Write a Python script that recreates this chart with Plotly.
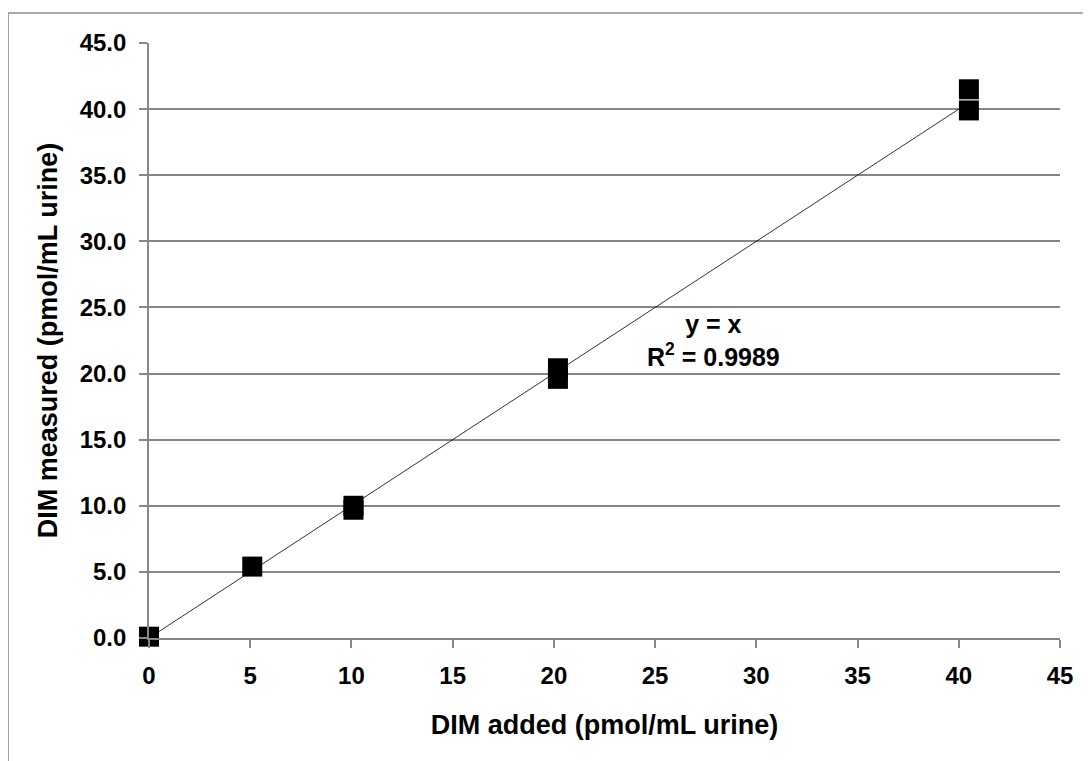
import plotly.graph_objects as go

# Data
dim_added = [0, 5.1, 10.1, 10.1, 20.2, 20.2, 40.5, 40.5]
dim_measured = [0.1, 5.4, 10.0, 9.7, 20.4, 19.6, 41.5, 39.9]
trend_slope = 1.0
trend_intercept = 0.0
r_squared = "0.9989"
x_ticks = [0, 5, 10, 15, 20, 25, 30, 35, 40, 45]
y_ticks = [0, 5, 10, 15, 20, 25, 30, 35, 40, 45]

trend_x = [min(dim_added), max(dim_added)]
trend_y = [trend_slope * v + trend_intercept for v in trend_x]

FONT = "Liberation Sans, Arial, sans-serif"
GRID = "#878787"

fig = go.Figure()
fig.add_trace(go.Scatter(
    x=trend_x, y=trend_y, mode="lines",
    line=dict(color="#1a1a1a", width=0.9),
    showlegend=False, hoverinfo="skip", cliponaxis=False,
))
fig.add_trace(go.Scatter(
    x=dim_added, y=dim_measured, mode="markers",
    marker=dict(symbol="square", size=20, color="black", line=dict(width=0)),
    showlegend=False, cliponaxis=False,
))

fig.add_annotation(
    x=27.9, y=22.5, xref="x", yref="y",
    text="y = x<br>R<sup>2</sup> = " + r_squared,
    showarrow=False, xanchor="center", yanchor="middle", align="center",
    font=dict(family=FONT, size=25, color="black", weight="bold"),
)

# outer chart border (left and top visible)
fig.add_shape(type="line", xref="paper", yref="paper",
              x0=-0.1548, x1=-0.1548, y0=-0.3, y1=1.0504,
              line=dict(color="#8c8c8c", width=1.7))
fig.add_shape(type="line", xref="paper", yref="paper",
              x0=-0.1548, x1=1.2, y0=1.0504, y1=1.0504,
              line=dict(color="#8c8c8c", width=1.7))

fig.update_layout(
    width=1091, height=761,
    margin=dict(l=141, r=39, t=35, b=131),
    paper_bgcolor="white", plot_bgcolor="white",
    font=dict(family=FONT, color="black"),
    xaxis=dict(
        range=[0, 45], tickvals=x_ticks, ticktext=[str(v) for v in x_ticks],
        showgrid=False, zeroline=False,
        showline=True, linecolor=GRID, linewidth=1.7,
        ticks="outside", ticklen=8, tickcolor=GRID, tickwidth=1.7,
        ticklabelstandoff=7,
        tickfont=dict(family=FONT, size=24, color="black", weight="bold"),
        title=dict(text="DIM added (pmol/mL urine)", standoff=27,
                   font=dict(family=FONT, size=27, color="black", weight="bold")),
    ),
    yaxis=dict(
        range=[0, 45], tickvals=y_ticks, ticktext=[f"{v:.1f}" for v in y_ticks],
        showgrid=True, gridcolor=GRID, gridwidth=1.7, zeroline=False,
        showline=True, linecolor=GRID, linewidth=1.7,
        ticks="outside", ticklen=8, tickcolor=GRID, tickwidth=1.7,
        ticklabelstandoff=8,
        tickfont=dict(family=FONT, size=24, color="black", weight="bold"),
        title=dict(text="DIM measured (pmol/mL urine)", standoff=14,
                   font=dict(family=FONT, size=27, color="black", weight="bold")),
    ),
)

fig.write_html("out.html")
